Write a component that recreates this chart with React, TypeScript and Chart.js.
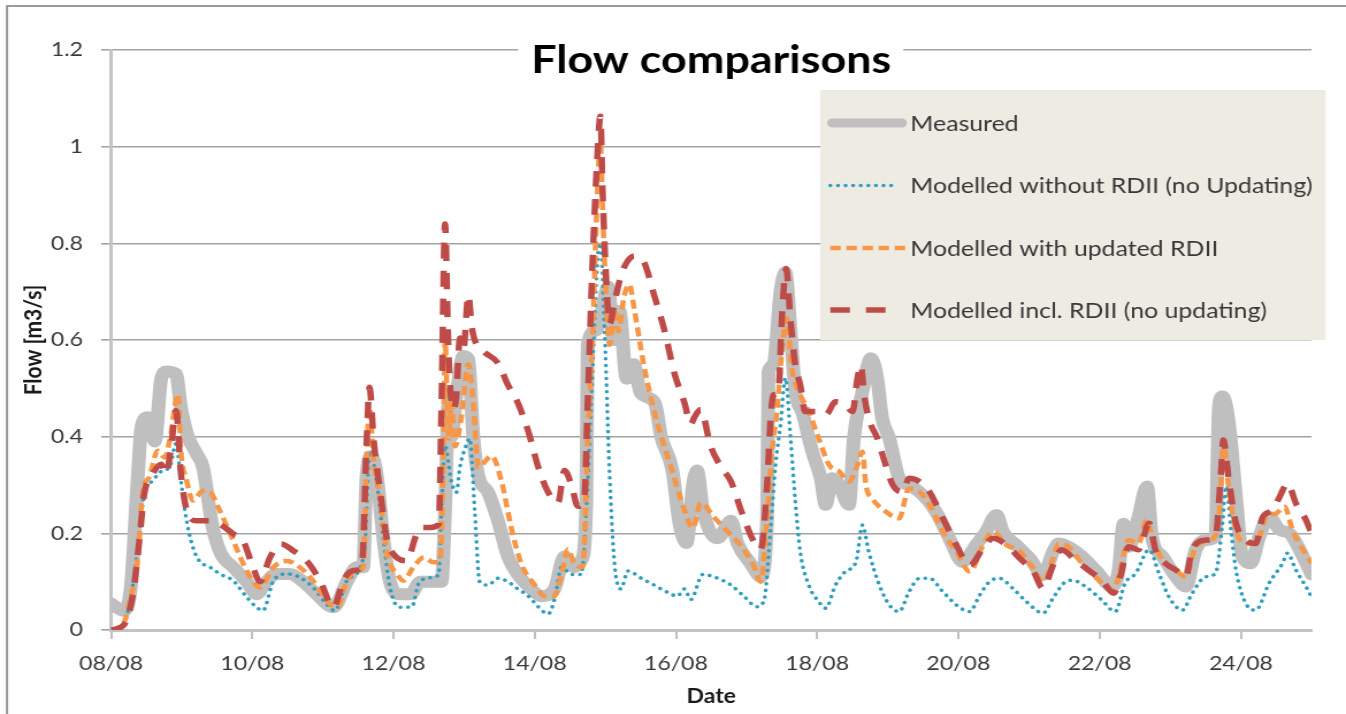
import React, { useEffect, useRef } from "react";
import { Chart, registerables } from "chart.js";

Chart.register(...registerables);

// ---------- data (x = day of August, y = flow m3/s) ----------
const tickDays = [8, 10, 12, 14, 16, 18, 20, 22, 24];
const yTicks = [0, 0.2, 0.4, 0.6, 0.8, 1.0, 1.2];
const monthLabel = "08";
const chartTitle = "Flow comparisons";
const xTitle = "Date";
const yTitle = "Flow [m3/s]";
const seriesNames = [
  "Measured",
  "Modelled without RDII (no Updating)",
  "Modelled with updated RDII",
  "Modelled incl. RDII (no updating)",
];

const measuredDays = [
  8.0, 8.17, 8.28, 8.38, 8.43, 8.52, 8.62, 8.71, 8.78, 8.92, 8.99, 9.09, 9.21, 9.3, 9.44, 9.56, 9.73, 9.92,
  10.06, 10.2, 10.34, 10.53, 10.72, 10.91, 11.15, 11.34, 11.48, 11.57, 11.62, 11.69, 11.76, 11.86, 11.95,
  12.09, 12.24, 12.38, 12.57, 12.68, 12.73, 12.78, 12.82, 12.89, 12.99, 13.06, 13.13, 13.2, 13.34, 13.48,
  13.62, 13.76, 13.95, 14.09, 14.28, 14.42, 14.56, 14.66, 14.73, 14.75, 14.87, 14.94, 15.04, 15.12, 15.2,
  15.3, 15.4, 15.5, 15.7, 15.79, 15.95, 16.05, 16.15, 16.24, 16.3, 16.38, 16.59, 16.78, 16.87, 17.06, 17.2,
  17.29, 17.31, 17.38, 17.48, 17.55, 17.62, 17.69, 17.79, 17.93, 18.05, 18.12, 18.21, 18.31, 18.45, 18.52,
  18.64, 18.76, 18.85, 18.92, 19.02, 19.16, 19.3, 19.49, 19.68, 19.87, 20.06, 20.25, 20.39, 20.54, 20.63,
  20.82, 21.01, 21.2, 21.34, 21.42, 21.56, 21.75, 21.94, 22.18, 22.27, 22.34, 22.41, 22.55, 22.67, 22.74,
  22.89, 23.08, 23.22, 23.36, 23.5, 23.64, 23.69, 23.74, 23.83, 23.93, 24.02, 24.14, 24.26, 24.4, 24.55,
  24.69, 24.88, 25.0,
];
const measuredFlow = [
  0.055, 0.04, 0.088, 0.32, 0.42, 0.44, 0.39, 0.52, 0.535, 0.53, 0.46, 0.4, 0.365, 0.337, 0.212, 0.157, 0.13, 0.1,
  0.074, 0.1, 0.116, 0.116, 0.1, 0.074, 0.047, 0.1, 0.13, 0.13, 0.323, 0.36, 0.323, 0.185, 0.1,
  0.074, 0.074, 0.1, 0.1, 0.1, 0.248, 0.47, 0.4, 0.485, 0.567, 0.56, 0.4, 0.32, 0.285, 0.226,
  0.152, 0.115, 0.085, 0.07, 0.085, 0.152, 0.13, 0.144, 0.263, 0.59, 0.62, 0.655, 0.71, 0.6, 0.66,
  0.52, 0.55, 0.49, 0.47, 0.4, 0.33, 0.22, 0.18, 0.3, 0.33, 0.25, 0.19, 0.226, 0.18, 0.137, 0.11,
  0.23, 0.534, 0.548, 0.7, 0.74, 0.624, 0.493, 0.45, 0.369, 0.314, 0.259, 0.314, 0.3, 0.259, 0.397,
  0.493, 0.562, 0.52, 0.438, 0.397, 0.314, 0.3, 0.28, 0.245, 0.19, 0.141, 0.176, 0.203, 0.238, 0.203,
  0.176, 0.148, 0.114, 0.162, 0.179, 0.172, 0.152, 0.124, 0.09, 0.124, 0.22, 0.172, 0.234, 0.297, 0.193,
  0.152, 0.11, 0.09, 0.166, 0.186, 0.193, 0.462, 0.483, 0.428, 0.276, 0.152, 0.138, 0.193, 0.234, 0.207,
  0.2, 0.152, 0.115,
];

const withoutDays = [
  8.0, 8.17, 8.28, 8.38, 8.47, 8.59, 8.73, 8.83, 8.92, 8.99, 9.07, 9.16, 9.25, 9.4, 9.54, 9.73, 9.92, 10.06,
  10.15, 10.3, 10.49, 10.67, 10.86, 11.05, 11.17, 11.34, 11.53, 11.6, 11.66, 11.76, 11.86, 11.95, 12.09,
  12.26, 12.36, 12.52, 12.64, 12.68, 12.73, 12.82, 12.89, 12.94, 13.01, 13.08, 13.15, 13.22, 13.34, 13.48,
  13.62, 13.76, 13.91, 14.05, 14.19, 14.28, 14.38, 14.52, 14.66, 14.73, 14.8, 14.89, 14.93, 14.99, 15.06,
  15.13, 15.22, 15.32, 15.51, 15.69, 15.88, 16.02, 16.12, 16.21, 16.38, 16.59, 16.78, 16.96, 17.15, 17.25,
  17.34, 17.41, 17.48, 17.55, 17.62, 17.69, 17.76, 17.88, 18.02, 18.12, 18.26, 18.4, 18.55, 18.64, 18.73,
  18.88, 19.02, 19.16, 19.3, 19.45, 19.59, 19.78, 19.97, 20.16, 20.3, 20.44, 20.58, 20.77, 20.96, 21.2,
  21.34, 21.5, 21.61, 21.8, 22.03, 22.22, 22.36, 22.51, 22.7, 22.84, 22.98, 23.17, 23.31, 23.5, 23.64,
  23.74, 23.79, 23.86, 23.93, 24.07, 24.21, 24.4, 24.59, 24.66, 24.78, 24.92, 25.0,
];
const withoutFlow = [
  0, 0.01, 0.068, 0.171, 0.281, 0.309, 0.33, 0.337, 0.385, 0.309, 0.226, 0.171, 0.143, 0.13, 0.116, 0.102, 0.068, 0.047,
  0.04, 0.102, 0.116, 0.109, 0.088, 0.054, 0.04, 0.102, 0.13, 0.185, 0.37, 0.309, 0.185, 0.088, 0.047,
  0.048, 0.097, 0.108, 0.115, 0.248, 0.38, 0.307, 0.285, 0.337, 0.374, 0.396, 0.248, 0.1, 0.093, 0.107,
  0.1, 0.085, 0.07, 0.048, 0.033, 0.063, 0.13, 0.115, 0.115, 0.248, 0.47, 0.767, 0.8, 0.618, 0.322,
  0.137, 0.085, 0.122, 0.107, 0.093, 0.078, 0.07, 0.085, 0.063, 0.115, 0.107, 0.093, 0.07, 0.048, 0.063,
  0.211, 0.341, 0.424, 0.521, 0.403, 0.266, 0.162, 0.093, 0.059, 0.045, 0.093, 0.121, 0.141, 0.217, 0.162,
  0.093, 0.052, 0.038, 0.079, 0.107, 0.107, 0.079, 0.052, 0.038, 0.072, 0.1, 0.107, 0.086, 0.059, 0.035,
  0.066, 0.098, 0.103, 0.09, 0.062, 0.038, 0.097, 0.117, 0.166, 0.117, 0.069, 0.041, 0.076, 0.11, 0.117,
  0.221, 0.297, 0.207, 0.124, 0.055, 0.041, 0.097, 0.138, 0.159, 0.124, 0.09, 0.069,
];

const updatedDays = [
  8.0, 8.17, 8.28, 8.38, 8.45, 8.54, 8.66, 8.76, 8.83, 8.95, 8.99, 9.07, 9.16, 9.3, 9.4, 9.54, 9.73, 9.92,
  10.11, 10.3, 10.49, 10.67, 10.86, 11.05, 11.2, 11.34, 11.48, 11.57, 11.62, 11.66, 11.72, 11.81, 11.91,
  12.05, 12.14, 12.28, 12.43, 12.57, 12.66, 12.71, 12.73, 12.78, 12.82, 12.87, 12.96, 13.06, 13.13, 13.2,
  13.39, 13.53, 13.67, 13.81, 14.0, 14.14, 14.28, 14.38, 14.47, 14.56, 14.68, 14.75, 14.82, 14.89, 14.93,
  14.96, 15.01, 15.06, 15.13, 15.18, 15.27, 15.34, 15.41, 15.55, 15.74, 15.93, 16.12, 16.24, 16.35, 16.54,
  16.73, 16.92, 17.11, 17.2, 17.29, 17.36, 17.43, 17.5, 17.57, 17.64, 17.74, 17.88, 18.02, 18.17, 18.31,
  18.45, 18.57, 18.64, 18.69, 18.78, 18.97, 19.16, 19.3, 19.45, 19.59, 19.78, 19.97, 20.16, 20.35, 20.49,
  20.68, 20.87, 21.06, 21.2, 21.34, 21.42, 21.56, 21.75, 21.94, 22.2, 22.29, 22.41, 22.55, 22.67, 22.74,
  22.89, 23.08, 23.22, 23.36, 23.55, 23.67, 23.72, 23.75, 23.83, 23.93, 24.07, 24.21, 24.36, 24.5, 24.62,
  24.73, 24.88, 25.0,
];
const updatedFlow = [
  0, 0.012, 0.068, 0.15, 0.288, 0.316, 0.371, 0.357, 0.392, 0.488, 0.371, 0.309, 0.268, 0.288, 0.285, 0.247, 0.185, 0.123,
  0.088, 0.13, 0.143, 0.13, 0.102, 0.061, 0.047, 0.102, 0.123, 0.13, 0.357, 0.46, 0.35, 0.274, 0.157,
  0.116, 0.102, 0.13, 0.15, 0.14, 0.144, 0.396, 0.6, 0.396, 0.47, 0.38, 0.44, 0.55, 0.47, 0.337,
  0.36, 0.307, 0.21, 0.137, 0.093, 0.07, 0.07, 0.115, 0.167, 0.137, 0.13, 0.396, 0.618, 0.915, 1.01,
  0.878, 0.693, 0.59, 0.663, 0.618, 0.693, 0.715, 0.663, 0.544, 0.426, 0.337, 0.248, 0.211, 0.263, 0.233,
  0.204, 0.174, 0.13, 0.1, 0.231, 0.369, 0.452, 0.576, 0.645, 0.541, 0.493, 0.452, 0.397, 0.341, 0.328,
  0.307, 0.341, 0.369, 0.3, 0.272, 0.245, 0.231, 0.293, 0.286, 0.259, 0.203, 0.162, 0.121, 0.176, 0.203,
  0.176, 0.162, 0.128, 0.1, 0.148, 0.179, 0.172, 0.138, 0.11, 0.083, 0.124, 0.186, 0.179, 0.228, 0.193,
  0.145, 0.124, 0.11, 0.172, 0.186, 0.207, 0.31, 0.393, 0.29, 0.207, 0.179, 0.179, 0.234, 0.241, 0.255,
  0.207, 0.166, 0.138,
];

const inclDays = [
  8.0, 8.19, 8.31, 8.4, 8.47, 8.59, 8.71, 8.78, 8.85, 8.92, 8.99, 9.09, 9.21, 9.4, 9.54, 9.73, 9.87, 10.01,
  10.11, 10.25, 10.41, 10.58, 10.77, 10.96, 11.15, 11.29, 11.43, 11.55, 11.62, 11.66, 11.72, 11.81, 11.91,
  12.0, 12.19, 12.31, 12.38, 12.52, 12.64, 12.68, 12.73, 12.77, 12.8, 12.85, 12.89, 12.94, 12.99, 13.06,
  13.11, 13.18, 13.29, 13.48, 13.62, 13.76, 13.91, 14.05, 14.19, 14.33, 14.42, 14.52, 14.61, 14.7, 14.75,
  14.82, 14.89, 14.93, 14.96, 15.01, 15.06, 15.13, 15.2, 15.27, 15.41, 15.55, 15.69, 15.84, 15.98, 16.12,
  16.21, 16.26, 16.35, 16.49, 16.64, 16.78, 16.92, 17.11, 17.2, 17.29, 17.34, 17.38, 17.45, 17.5, 17.56,
  17.62, 17.69, 17.76, 17.83, 17.98, 18.12, 18.26, 18.4, 18.5, 18.57, 18.62, 18.66, 18.73, 18.85, 18.97,
  19.07, 19.21, 19.3, 19.45, 19.59, 19.78, 19.97, 20.16, 20.35, 20.49, 20.68, 20.87, 21.06, 21.2, 21.34,
  21.46, 21.65, 21.84, 22.03, 22.2, 22.29, 22.41, 22.55, 22.7, 22.79, 22.93, 23.08, 23.22, 23.31, 23.5,
  23.64, 23.72, 23.75, 23.83, 23.93, 24.07, 24.21, 24.31, 24.45, 24.55, 24.66, 24.78, 24.92, 25.0,
];
const inclFlow = [
  0, 0.012, 0.074, 0.185, 0.281, 0.323, 0.343, 0.323, 0.378, 0.454, 0.323, 0.24, 0.226, 0.226, 0.219, 0.199, 0.185, 0.13,
  0.1, 0.15, 0.178, 0.164, 0.143, 0.102, 0.047, 0.102, 0.123, 0.13, 0.392, 0.502, 0.392, 0.288, 0.185,
  0.157, 0.143, 0.192, 0.212, 0.212, 0.219, 0.47, 0.84, 0.62, 0.507, 0.456, 0.485, 0.604, 0.581, 0.693,
  0.626, 0.589, 0.574, 0.552, 0.507, 0.47, 0.41, 0.337, 0.285, 0.263, 0.33, 0.3, 0.256, 0.27, 0.47,
  0.767, 0.989, 1.063, 0.915, 0.73, 0.633, 0.678, 0.722, 0.752, 0.774, 0.76, 0.693, 0.618, 0.53, 0.47,
  0.426, 0.44, 0.456, 0.381, 0.337, 0.307, 0.248, 0.181, 0.167, 0.3, 0.438, 0.486, 0.493, 0.645, 0.748,
  0.645, 0.548, 0.507, 0.452, 0.452, 0.445, 0.472, 0.466, 0.452, 0.521, 0.548, 0.493, 0.438, 0.397, 0.341,
  0.3, 0.286, 0.314, 0.307, 0.286, 0.231, 0.176, 0.134, 0.169, 0.19, 0.176, 0.148, 0.121, 0.086, 0.134,
  0.166, 0.145, 0.124, 0.103, 0.076, 0.11, 0.172, 0.166, 0.221, 0.166, 0.138, 0.124, 0.11, 0.166, 0.186,
  0.193, 0.331, 0.393, 0.31, 0.221, 0.186, 0.179, 0.234, 0.248, 0.276, 0.303, 0.262, 0.228, 0.2,
];

// ---------- layout / style ----------
const PAGE_W = 1346;
const PAGE_H = 714;
const STRETCH = 1.15; // horizontal stretch of the original picture
const CANVAS_W = Math.round(PAGE_W / STRETCH);
const px = (pageX: number) => pageX / STRETCH;

const FONT = "Lato, 'Open Sans', sans-serif";
const colors = ["#BFBFBF", "#2F9FC0", "#F79646", "#BE4B48"];
const textColor = "#383838";

const pts = (xs: number[], ys: number[]) => xs.map((x, i) => ({ x, y: ys[i] }));

const styleFor = [
  { borderWidth: 12, borderDash: [] as number[], borderCapStyle: "round" as const },
  { borderWidth: 3.5, borderDash: [0.1, 6.5], borderCapStyle: "round" as const },
  { borderWidth: 4.5, borderDash: [9, 5], borderCapStyle: "butt" as const },
  { borderWidth: 5.5, borderDash: [16, 12], borderCapStyle: "butt" as const },
];

const decorPlugin = {
  id: "decor",
  beforeDraw(chart: any) {
    const { ctx } = chart;
    ctx.save();
    ctx.fillStyle = "#ffffff";
    ctx.fillRect(0, 0, chart.width, chart.height);
    ctx.strokeStyle = "#9A9A9A";
    ctx.lineWidth = 2;
    ctx.strokeRect(px(7), 6, chart.width + 40, chart.height + 40);
    ctx.restore();
  },
  afterDraw(chart: any) {
    const { ctx } = chart;
    ctx.save();
    // title with white backing over the top gridline
    ctx.fillStyle = "#ffffff";
    ctx.fillRect(px(518), 40, px(903) - px(518), 22);
    ctx.font = `bold 39px ${FONT}`;
    ctx.fillStyle = "#000000";
    ctx.textAlign = "center";
    ctx.textBaseline = "alphabetic";
    ctx.fillText(chartTitle, px(711), 73);

    // legend
    const bx = px(820);
    const by = 90;
    const bw = px(1325) - px(820);
    const bh = 250;
    ctx.fillStyle = "#EEEBE3";
    ctx.fillRect(bx, by, bw, bh);
    const rows = [123, 185.5, 248, 310];
    const sampleEnds = [906, 895, 905, 886];
    ctx.font = `21.6px ${FONT}`;
    ctx.textAlign = "left";
    ctx.textBaseline = "middle";
    seriesNames.forEach((name, i) => {
      const y = rows[i];
      ctx.save();
      ctx.strokeStyle = colors[i];
      ctx.lineWidth = i === 0 ? 9 : styleFor[i].borderWidth;
      ctx.lineCap = styleFor[i].borderCapStyle;
      ctx.setLineDash(i === 3 ? [17, 14] : styleFor[i].borderDash);
      ctx.beginPath();
      ctx.moveTo(px(i === 0 ? 832 : 830), y);
      ctx.lineTo(px(sampleEnds[i]) - (i === 0 ? 4 : 0), y);
      ctx.stroke();
      ctx.restore();
      ctx.fillStyle = textColor;
      ctx.fillText(name, px(910), y + 1);
    });
    ctx.restore();
  },
};

export default function App() {
  const ref = useRef<HTMLCanvasElement | null>(null);

  useEffect(() => {
    if (!ref.current) return;
    const seriesData = [
      pts(measuredDays, measuredFlow),
      pts(withoutDays, withoutFlow),
      pts(updatedDays, updatedFlow),
      pts(inclDays, inclFlow),
    ];
    const chart = new Chart(ref.current, {
      type: "line",
      data: {
        datasets: seriesNames.map((name, i) => ({
          label: name,
          data: seriesData[i],
          borderColor: colors[i],
          backgroundColor: colors[i],
          borderWidth: styleFor[i].borderWidth,
          borderDash: styleFor[i].borderDash,
          borderCapStyle: styleFor[i].borderCapStyle,
          borderJoinStyle: "round",
          pointRadius: 0,
          fill: false,
          cubicInterpolationMode: "monotone",
          order: 4 - i,
        })),
      },
      options: {
        responsive: false,
        devicePixelRatio: 1,
        animation: false,
        events: [],
        layout: { padding: { left: px(7), right: CANVAS_W - px(1311), top: 50, bottom: 0 } },
        plugins: {
          legend: { display: false },
          tooltip: { enabled: false },
          title: { display: false },
        },
        scales: {
          x: {
            type: "linear",
            min: 8,
            max: 25,
            afterBuildTicks: (s: any) => {
              s.ticks = tickDays.map((v) => ({ value: v }));
            },
            afterFit: (s: any) => {
              s.height = PAGE_H - 630;
            },
            grid: { drawOnChartArea: false, drawTicks: true, tickLength: 9, color: "#BFBFBF", lineWidth: 2 },
            border: { display: true, color: "#C4C4C4", width: 3 },
            ticks: {
              autoSkip: false,
              maxRotation: 0,
              padding: 13,
              color: textColor,
              font: { family: FONT, size: 20 },
              callback: (v: any) => `${String(v).padStart(2, "0")}/${monthLabel}`,
            },
            title: {
              display: true,
              text: xTitle,
              color: "#1A1A1A",
              font: { family: FONT, size: 20, weight: "bold" },
              padding: { top: 0, bottom: 5 },
            },
          },
          y: {
            type: "linear",
            min: 0,
            max: 1.2,
            afterBuildTicks: (s: any) => {
              s.ticks = yTicks.map((v) => ({ value: v }));
            },
            afterFit: (s: any) => {
              s.width = px(111) - px(7);
            },
            grid: { color: "#A3A3A3", lineWidth: 1.6, drawTicks: true, tickLength: px(10) },
            border: { display: true, color: "#C4C4C4", width: 3 },
            ticks: {
              padding: px(18),
              color: textColor,
              font: { family: FONT, size: 20 },
              callback: (v: any) => String(Math.round(Number(v) * 10) / 10),
            },
            title: {
              display: true,
              text: yTitle,
              color: "#1A1A1A",
              font: { family: FONT, size: 21, weight: "bold" },
              padding: { top: 11, bottom: 0 },
            },
          },
        },
      } as any,
      plugins: [decorPlugin],
    });
    return () => chart.destroy();
  }, []);

  return (
    <div style={{ position: "fixed", left: 0, top: 0, width: PAGE_W, height: PAGE_H, background: "#fff" }}>
      <canvas
        ref={ref}
        width={CANVAS_W}
        height={PAGE_H}
        style={{ width: `${PAGE_W}px`, height: `${PAGE_H}px`, display: "block" }}
      />
    </div>
  );
}
